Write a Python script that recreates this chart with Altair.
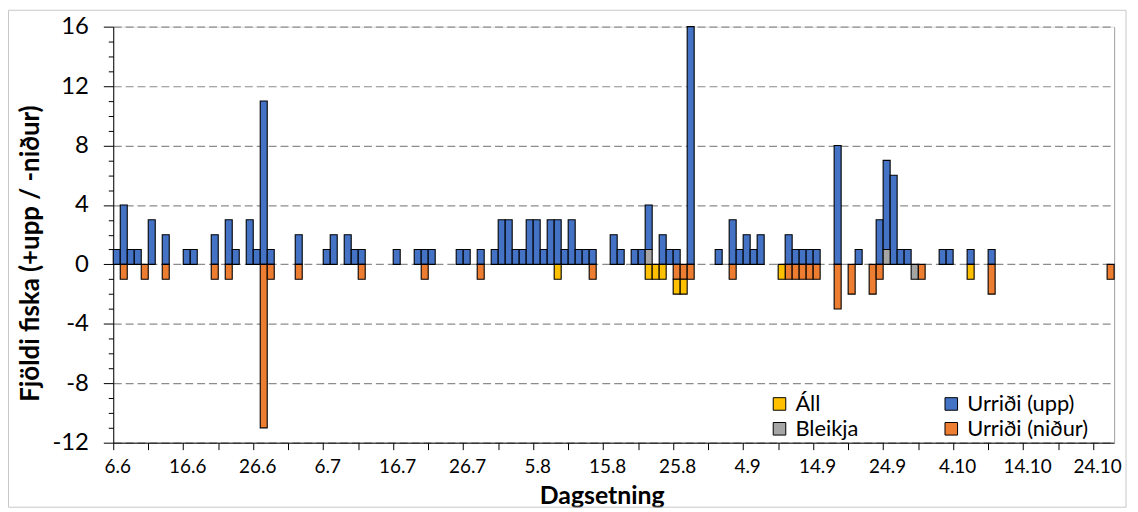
import altair as alt
import pandas as pd
from datetime import date

# ---- data (d.m) ----
upp_dates = ["6.6", "7.6", "8.6", "9.6", "11.6", "13.6", "16.6", "17.6", "20.6", "22.6",
             "23.6", "25.6", "26.6", "27.6", "28.6", "2.7", "6.7", "7.7", "9.7", "10.7",
             "11.7", "16.7", "19.7", "20.7", "21.7", "25.7", "26.7", "28.7", "30.7", "31.7",
             "1.8", "2.8", "3.8", "4.8", "5.8", "6.8", "7.8", "8.8", "9.8", "10.8",
             "11.8", "12.8", "13.8", "16.8", "17.8", "19.8", "20.8", "21.8", "23.8", "24.8",
             "25.8", "27.8", "31.8", "2.9", "3.9", "4.9", "5.9", "6.9", "10.9", "11.9",
             "12.9", "13.9", "14.9", "17.9", "20.9", "23.9", "24.9", "25.9", "26.9", "27.9",
             "2.10", "3.10", "6.10", "9.10"]
upp_vals = [1, 4, 1, 1, 3, 2, 1, 1, 2, 3,
            1, 3, 1, 11, 1, 2, 1, 2, 2, 1,
            1, 1, 1, 1, 1, 1, 1, 1, 1, 3,
            3, 1, 1, 3, 3, 1, 3, 3, 1, 3,
            1, 1, 1, 2, 1, 1, 1, 3, 2, 1,
            1, 16, 1, 3, 1, 2, 1, 2, 2, 1,
            1, 1, 1, 8, 1, 3, 6, 6, 1, 1,
            1, 1, 1, 1]

nidur_dates = ["7.6", "10.6", "13.6", "20.6", "22.6", "27.6", "28.6", "2.7", "11.7", "20.7",
               "28.7", "13.8", "25.8", "26.8", "27.8", "2.9", "10.9", "11.9", "12.9", "13.9",
               "14.9", "17.9", "19.9", "22.9", "23.9", "29.9", "9.10", "26.10"]
nidur_vals = [-1, -1, -1, -1, -1, -11, -1, -1, -1, -1,
              -1, -1, -1, -1, -1, -1, -1, -1, -1, -1,
              -1, -3, -2, -2, -1, -1, -2, -1]

all_dates = ["8.8", "21.8", "22.8", "23.8", "25.8", "26.8", "9.9", "6.10"]
all_vals = [-1, -1, -1, -1, -1, -1, -1, -1]

bleikja_dates = ["21.8", "24.9", "28.9"]
bleikja_vals = [1, 1, -1]

tick_labels = ["6.6", "16.6", "26.6", "6.7", "16.7", "26.7", "5.8", "15.8", "25.8",
               "4.9", "14.9", "24.9", "4.10", "14.10", "24.10"]

series_names = ["Áll", "Bleikja", "Urriði (upp)", "Urriði (niður)"]
series_colors = ["#FFC000", "#A5A5A5", "#4472C4", "#ED7D31"]
stack_order = {"Bleikja": 0, "Urriði (upp)": 1, "Urriði (niður)": 2, "Áll": 3}

START = date(2021, 6, 6)
N_DAYS = 143


def day_index(s):
    d, m = s.split(".")
    return (date(2021, int(m), int(d)) - START).days


rows = []
for name, ds, vs in [("Urriði (upp)", upp_dates, upp_vals),
                     ("Urriði (niður)", nidur_dates, nidur_vals),
                     ("Áll", all_dates, all_vals),
                     ("Bleikja", bleikja_dates, bleikja_vals)]:
    for d, v in zip(ds, vs):
        rows.append({"idx": day_index(d), "series": name, "value": v,
                     "ord": stack_order[name]})
df = pd.DataFrame(rows)

FONT = "Lato"
W, H = 1008, 419

label_arr = "[" + ",".join("'" + t + "'" for t in tick_labels) + "]"

yscale = alt.Scale(domain=[-12, 16], nice=False, zero=False)

base = alt.Chart(df).transform_calculate(
    idx1="datum.idx + 1"
).transform_stack(
    stack="value", groupby=["idx"], as_=["y0", "y1"],
    sort=[alt.SortField("ord", order="ascending")], offset="zero"
)

bars = base.mark_bar(stroke="black", strokeWidth=1.1).encode(
    x=alt.X("idx:Q",
            scale=alt.Scale(domain=[0, N_DAYS], nice=False, zero=False),
            axis=alt.Axis(values=list(range(0, 141, 5)),
                          labelExpr=f"datum.value % 10 == 0 ? {label_arr}[datum.value / 10] : ''",
                          title="Dagsetning", titleFont=FONT, titleFontSize=25,
                          titleFontWeight="bold", titleColor="black", titlePadding=7,
                          titleX=492,
                          labelFont=FONT, labelFontSize=19, labelColor="black",
                          labelOffset=4, labelPadding=8, labelOverlap=False,
                          labelFlush=False,
                          tickColor="black", tickSize=7, tickWidth=1,
                          domainColor="black", domainWidth=1, grid=False)),
    x2="idx1:Q",
    y=alt.Y("y0:Q", scale=yscale,
            axis=alt.Axis(values=list(range(-12, 17)),
                          labelExpr="datum.value % 4 == 0 ? '' + datum.value : ''",
                          title="Fjöldi fiska (+upp / -niður)", titleFont=FONT,
                          titleFontSize=26, titleFontWeight="bold", titleColor="black",
                          titlePadding=9, titleY=228,
                          labelFont=FONT, labelFontSize=24, labelColor="black",
                          labelPadding=15, labelOverlap=False, labelFlush=False,
                          tickColor="black", tickWidth=1,
                          tickSize={"condition": {"test": "datum.value % 4 == 0", "value": 10},
                                    "value": 5},
                          domainColor="black", domainWidth=1,
                          grid=True, gridColor="#8C8C8C", gridDash=[8, 4], gridWidth=1.2,
                          gridOpacity={"condition": {"test": "datum.value % 4 == 0", "value": 1},
                                       "value": 0})),
    y2="y1:Q",
    fill=alt.Fill("series:N",
                  scale=alt.Scale(domain=series_names, range=series_colors),
                  legend=alt.Legend(title=None, orient="none", legendX=660, legendY=369,
                                    columns=2, columnPadding=82, rowPadding=3,
                                    symbolType="square", symbolSize=160,
                                    symbolStrokeColor="black", symbolStrokeWidth=1,
                                    symbolOpacity=1,
                                    labelFont=FONT, labelFontSize=22, labelColor="black",
                                    labelOffset=5, padding=0)),
)

right_line = base.mark_bar(opacity=0).encode(
    y=alt.Y("y0:Q", scale=yscale,
            axis=alt.Axis(orient="right", labels=False, ticks=False, grid=False,
                          title="", domainColor="#A6A6A6", domainWidth=1)),
)

frame = alt.Chart(pd.DataFrame({"k": [0]})).mark_rect(
    filled=False, stroke="#C8C8C8", strokeWidth=1
).encode(x=alt.value(-105.5), x2=alt.value(1020), y=alt.value(-16.5), y2=alt.value(484))

chart = alt.layer(frame, bars, right_line).resolve_axis(y="independent").properties(
    width=W, height=H,
    autosize=alt.AutoSizeParams(type="none"),
    padding={"left": 106, "top": 17, "right": 16, "bottom": 66},
).configure_view(stroke=None).configure(background="white")

chart.save("out.html", embed_options={"renderer": "svg", "actions": False})
